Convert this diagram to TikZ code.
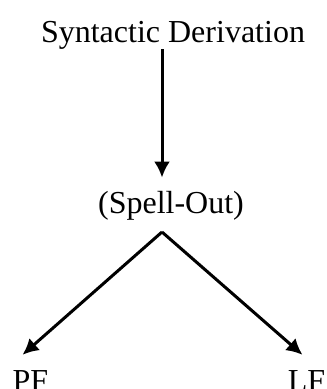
\documentclass[tikz,border=0pt]{standalone}
\usepackage{fontspec}
\setmainfont{Liberation Serif}
\usepackage{tikz}
\usetikzlibrary{arrows.meta,positioning}

\begin{document}
\begin{tikzpicture}[>={Latex[length=16pt,width=16pt]},x=1pt,y=-1pt,
  font=\fontsize{32}{36}\selectfont,
  lbl/.style={inner sep=0pt,anchor=base},
  link/.style={->,line width=3pt}]
\useasboundingbox (0,0) rectangle (327,389);
\node[lbl] (sd) at (173,42){Syntactic Derivation};
\node[lbl] (so) at (171,213){(Spell-Out)};
\node[lbl] (pf) at (30.5,391){PF}; \node[lbl] (lf) at (306.5,391){LF};
\coordinate (split) at (162,232);
\draw[link,shorten >=13pt] ([xshift=-11pt]sd.south) -- ([xshift=-9pt]so.north);
\draw[link] (split) -- ([xshift=-8pt,yshift=15pt]pf.north);
\draw[link] (split) -- ([xshift=-4pt,yshift=15pt]lf.north);
\end{tikzpicture}
\end{document}
